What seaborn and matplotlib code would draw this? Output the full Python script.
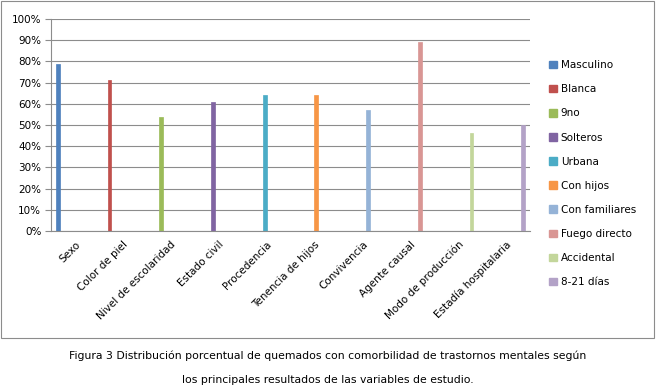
import matplotlib
matplotlib.use("Agg")
import matplotlib.pyplot as plt
import matplotlib.patches as mpatches
import seaborn as sns
import pandas as pd
from matplotlib.ticker import PercentFormatter, FixedLocator

categories = ["Sexo", "Color de piel", "Nivel de escolaridad", "Estado civil",
              "Procedencia", "Tenencia de hijos", "Convivencia", "Agente causal",
              "Modo de producción", "Estadía hospitalaria"]
series = ["Masculino", "Blanca", "9no", "Solteros", "Urbana", "Con hijos",
          "Con familiares", "Fuego directo", "Accidental", "8-21 días"]
values = [79, 71, 54, 61, 64, 64, 57, 89, 46, 50]
colors = ["#4F81BD", "#C0504D", "#9BBB59", "#8064A2", "#4BACC6", "#F79646",
          "#95B3D7", "#D99694", "#C3D69B", "#B3A2C7"]

rows = []
for i, cat in enumerate(categories):
    for j, s in enumerate(series):
        rows.append({"cat": cat, "serie": s, "val": values[i] if i == j else 0})
df = pd.DataFrame(rows)

sns.set_style("white")
plt.rcParams["font.family"] = ["DejaVu Sans"]
plt.rcParams["text.color"] = "black"
plt.rcParams["xtick.labelcolor"] = "black"
plt.rcParams["ytick.labelcolor"] = "black"

fig = plt.figure(figsize=(6.56, 3.92), dpi=100)
ax = fig.add_axes([51 / 656, 1 - 231 / 392, 479 / 656, 212 / 392])

sns.barplot(data=df, x="cat", y="val", hue="serie", order=categories,
            hue_order=series, palette=colors, width=0.8, ax=ax,
            legend=False, saturation=1, linewidth=0)
for bar in ax.patches:
    bar.set_edgecolor(bar.get_facecolor())
    bar.set_linewidth(0.5)

ax.set_ylim(0, 100)
ax.set_xlim(-0.5, len(categories) - 0.5)
ax.set_yticks(range(0, 101, 10))
ax.yaxis.set_major_formatter(PercentFormatter(decimals=0))
ax.yaxis.grid(True, color="#8C8C8C", linewidth=0.8)
ax.set_axisbelow(True)
ax.set_xlabel("")
ax.set_ylabel("")

for side in ["top", "right"]:
    ax.spines[side].set_visible(False)
for side in ["left", "bottom"]:
    ax.spines[side].set_color("#8C8C8C")
    ax.spines[side].set_linewidth(0.8)

ax.set_xticks(range(len(categories)))
ax.set_xticklabels(categories, rotation=45, ha="right", rotation_mode="anchor",
                   fontsize=7.5)
ax.xaxis.set_minor_locator(FixedLocator([k - 0.5 for k in range(len(categories) + 1)]))
ax.tick_params(axis="x", which="major", length=0, pad=6)
ax.tick_params(axis="x", which="minor", length=4, color="#8C8C8C", width=0.8)
ax.tick_params(axis="y", length=4, color="#8C8C8C", width=0.8, labelsize=7.5, pad=3)
ax.tick_params(axis="y", left=True)

handles = [mpatches.Patch(color=c, label=s) for c, s in zip(colors, series)]
fig.legend(handles=handles, loc="upper left", bbox_to_anchor=(540 / 656, 1 - 51 / 392),
           frameon=False, fontsize=7.5, handlelength=0.7, handleheight=0.7,
           handletextpad=0.4, labelspacing=1.35)

fig.patches.append(mpatches.Rectangle((1 / 656, 1 - 338 / 392), 653 / 656, 337 / 392,
                                      transform=fig.transFigure, fill=False,
                                      edgecolor="#8C8C8C", linewidth=0.8))

fig.text(0.5, 1 - 356 / 392,
         "Figura 3 Distribución porcentual de quemados con comorbilidad de trastornos mentales según",
         ha="center", va="center", fontsize=7.8)
fig.text(0.5, 1 - 380 / 392, "los principales resultados de las variables de estudio.",
         ha="center", va="center", fontsize=7.8)

fig.savefig("out.png", dpi=100)
